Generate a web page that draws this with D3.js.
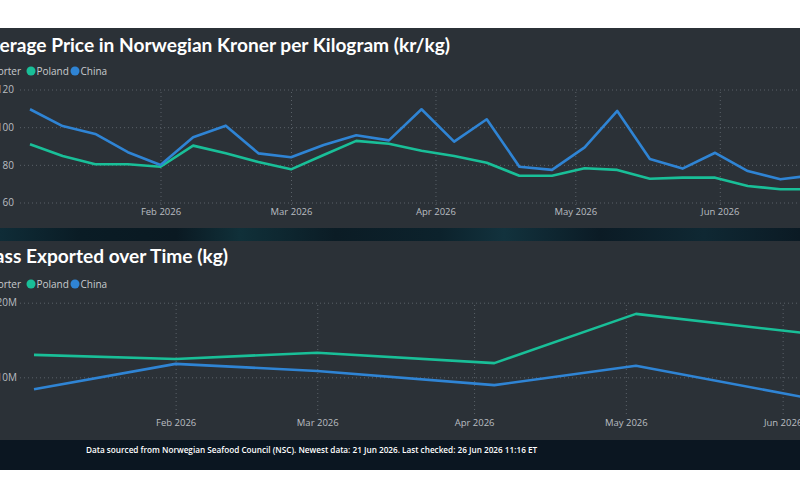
<!DOCTYPE html>
<html lang="en">
<head>
<meta charset="UTF-8">
<title>Norwegian seafood exports</title>
<script src="https://cdn.jsdelivr.net/npm/d3@7"></script>
<style>
    body { margin: 0; background: #ffffff; }
    svg { display: block; font-family: "Open Sans", "Noto Sans", sans-serif; }
</style>
</head>
<body>
<script>

    // weekly price data (kr/kg)
    var weekDates = ["2026-01-04", "2026-01-11", "2026-01-18", "2026-01-25", "2026-02-01", "2026-02-08",
        "2026-02-15", "2026-02-22", "2026-03-01", "2026-03-08", "2026-03-15", "2026-03-22", "2026-03-29",
        "2026-04-05", "2026-04-12", "2026-04-19", "2026-04-26", "2026-05-03", "2026-05-10", "2026-05-17",
        "2026-05-24", "2026-05-31", "2026-06-07", "2026-06-14", "2026-06-21"];
    var pricePoland = [90.9, 84.7, 80.3, 80.3, 79.0, 90.2, 86.1, 81.5, 77.6, 85.2, 92.7, 91.2, 87.5,
        84.7, 81.1, 74.2, 74.2, 78.2, 77.3, 72.6, 73.2, 73.2, 68.8, 67.0, 67.0];
    var priceChina = [109.5, 100.6, 96.4, 86.7, 79.9, 94.6, 100.8, 86.1, 84.0, 90.5, 95.7, 93.0, 109.5,
        92.3, 104.2, 79.0, 77.3, 89.3, 108.6, 83.1, 78.0, 86.4, 76.7, 72.3, 74.5];
    var priceTicks = [60, 80, 100, 120];

    // monthly mass data (kg)
    var monthDates = ["2026-01-04", "2026-02-01", "2026-03-01", "2026-04-05", "2026-05-03", "2026-06-07"];
    var massPoland = [13.0e6, 12.45e6, 13.3e6, 11.9e6, 18.5e6, 15.8e6];
    var massChina = [8.4e6, 11.8e6, 10.85e6, 8.95e6, 11.55e6, 7.1e6];
    var massTicks = [10e6, 20e6];

    var monthTicks = ["2026-02-01", "2026-03-01", "2026-04-01", "2026-05-01", "2026-06-01"];
    var seriesNames = ["Poland", "China"];
    var colors = {Poland: "#19bf98", China: "#2f84d4"};

    var parse = d3.timeParse("%Y-%m-%d");
    var fmtMonth = d3.timeFormat("%b %Y");

    var svg = d3.select("body").append("svg")
            .attr("width", 800)
            .attr("height", 500);

    // panels
    svg.append("rect").attr("x", 0).attr("y", 28).attr("width", 800).attr("height", 200).attr("fill", "#2b3137");
    svg.append("rect").attr("x", 0).attr("y", 241).attr("width", 800).attr("height", 199).attr("fill", "#2b3137");
    svg.append("rect").attr("x", 0).attr("y", 440).attr("width", 800).attr("height", 30).attr("fill", "#0b1621");

    // textured band between the panels
    var grad = svg.append("defs").append("linearGradient").attr("id", "band");
    [["0%", "#0f2c37"], ["10%", "#0a1c25"], ["22%", "#0a1922"], ["30%", "#103039"], ["42%", "#0b1c25"],
        ["55%", "#0c222c"], ["63%", "#12323d"], ["75%", "#0b1b25"], ["88%", "#0f2833"], ["100%", "#0b1a24"]]
        .forEach(function (s) {
            grad.append("stop").attr("offset", s[0]).attr("stop-color", s[1]);
        });
    svg.append("rect").attr("x", 0).attr("y", 228).attr("width", 800).attr("height", 13).attr("fill", "url(#band)");

    function drawChart(opt) {
        var g = svg.append("g");

        // title, sized so that it spans the same width as the screenshot
        var title = g.append("text")
                .attr("x", opt.titleEnd)
                .attr("y", opt.titleY)
                .attr("text-anchor", "end")
                .attr("fill", "#ffffff")
                .attr("font-family", "Lato, \"Open Sans\", sans-serif")
                .attr("font-size", "18px")
                .attr("font-weight", "bold")
                .text(opt.title);
        var w = title.node().getComputedTextLength();
        title.attr("font-size", (18 * opt.titleWidth / w) + "px");

        // legend
        var leg = g.append("g").attr("transform", "translate(0," + opt.legendY + ")");
        leg.append("text").attr("x", 21).attr("y", 3.5).attr("text-anchor", "end")
                .attr("fill", "#c8cbce").attr("font-size", "10px").text("Exporter");
        var lx = [31, 75];
        seriesNames.forEach(function (name, i) {
            leg.append("circle").attr("cx", lx[i]).attr("cy", 0).attr("r", 4.5).attr("fill", colors[name]);
            leg.append("text").attr("x", lx[i] + 5.5).attr("y", 3.5)
                    .attr("fill", "#c8cbce").attr("font-size", "10px").text(name);
        });

        // y grid + labels
        var yAxis = d3.axisLeft(opt.y)
                .tickValues(opt.yTicks)
                .tickSize(-(800 - 20))
                .tickPadding(20 - opt.yLabelEnd)
                .tickFormat(opt.yFormat);
        var ya = g.append("g").attr("transform", "translate(20,0)").call(yAxis);
        ya.select(".domain").remove();
        ya.selectAll("line").attr("stroke", "#5a6168").attr("stroke-dasharray", "1,3");
        ya.selectAll("text").attr("fill", "#b9bdc1").attr("font-size", "10px")
                .attr("font-family", "\"Open Sans\", sans-serif");

        // x grid + labels
        var xAxis = d3.axisBottom(opt.x)
                .tickValues(monthTicks.map(parse))
                .tickSize(-(opt.plotBottom - opt.plotTop))
                .tickPadding(opt.xPad)
                .tickFormat(fmtMonth);
        var xa = g.append("g").attr("transform", "translate(0," + opt.plotBottom + ")").call(xAxis);
        xa.select(".domain").remove();
        xa.selectAll("line").attr("stroke", "#5a6168").attr("stroke-dasharray", "1,3");
        xa.selectAll("text").attr("fill", "#b9bdc1").attr("font-size", "9.5px")
                .attr("font-family", "\"Open Sans\", sans-serif");

        var line = d3.line()
                .x(function (d) { return opt.x(d.date); })
                .y(function (d) { return opt.y(d.value); });

        seriesNames.forEach(function (name) {
            var values = opt.series[name];
            var pts = opt.dates.map(function (d, i) {
                return {date: parse(d), value: values[i]};
            });
            g.append("path")
                    .datum(pts)
                    .attr("fill", "none")
                    .attr("stroke", colors[name])
                    .attr("stroke-width", 2.6)
                    .attr("stroke-linejoin", "round")
                    .attr("d", line);
        });
    }

    // chart 1: price
    drawChart({
        title: "Average Price in Norwegian Kroner per Kilogram (kr/kg)",
        titleEnd: 450, titleWidth: 473, titleY: 52, legendY: 71,
        x: d3.scaleTime().domain([parse(weekDates[0]), parse(weekDates[weekDates.length - 1])]).range([30, 813]),
        y: d3.scaleLinear().domain([60, 120]).range([202.5, 89.5]),
        yTicks: priceTicks,
        yFormat: d3.format("d"),
        yLabelEnd: 14,
        plotTop: 89, plotBottom: 205, xPad: 3,
        dates: weekDates,
        series: {Poland: pricePoland, China: priceChina}
    });

    // chart 2: mass
    drawChart({
        title: "Mass Exported over Time (kg)",
        titleEnd: 228, titleWidth: 251, titleY: 263, legendY: 284,
        x: d3.scaleTime().domain([parse(monthDates[0]), parse(monthDates[monthDates.length - 1])]).range([34, 813]),
        y: d3.scaleLinear().domain([10e6, 20e6]).range([377.3, 302.7]),
        yTicks: massTicks,
        yFormat: function (d) { return (d / 1e6) + "M"; },
        yLabelEnd: 17,
        plotTop: 303, plotBottom: 414, xPad: 5,
        dates: monthDates,
        series: {Poland: massPoland, China: massChina}
    });

    svg.append("text")
            .attr("x", 86)
            .attr("y", 452.5)
            .attr("fill", "#ffffff")
            .attr("font-size", "8.2px")
            .attr("font-weight", 600)
            .text("Data sourced from Norwegian Seafood Council (NSC). Newest data: 21 Jun 2026. Last checked: 26 Jun 2026 11:16 ET");

</script>
</body>
</html>
